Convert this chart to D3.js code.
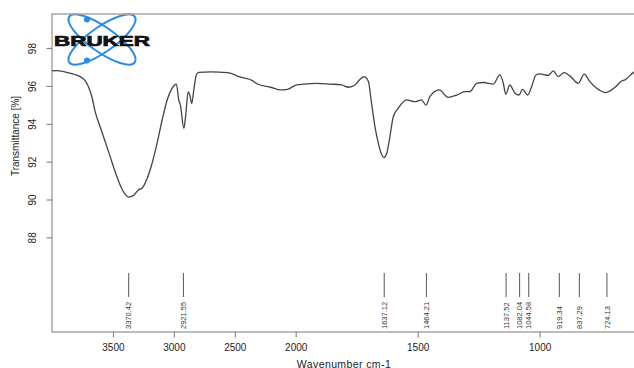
<!DOCTYPE html>
<html>
<head>
<meta charset="utf-8">
<script src="https://cdn.jsdelivr.net/npm/d3@7"></script>
<style>
  html, body { margin: 0; padding: 0; background: #fff; }
  svg { display: block; font-family: "Liberation Sans", Arial, sans-serif; }
</style>
</head>
<body>
<svg id="chart" width="634" height="368"></svg>
<script>
// spectrum: wavenumber (cm-1) and transmittance (%)
const wavenumbers = [4000, 3961, 3852, 3769, 3728, 3701, 3673, 3646, 3605, 3563, 3522, 3481, 3440, 3399, 3372,
  3330, 3289, 3261, 3220, 3179, 3138, 3096, 3055, 3014, 2979, 2960, 2946, 2918, 2904, 2882, 2869, 2853, 2836,
  2816, 2795, 2699, 2561, 2451, 2355, 2314, 2204, 2122, 2067, 1996, 1914, 1859, 1811, 1784, 1757, 1736, 1720,
  1702, 1689, 1675, 1661, 1648, 1638, 1627, 1616, 1600, 1580, 1545, 1511, 1484, 1466, 1450, 1412, 1375, 1340,
  1306, 1286, 1258, 1231, 1190, 1163, 1149, 1139, 1122, 1101, 1085, 1070, 1049, 1033, 1015, 999, 965, 944, 924,
  900, 876, 842, 817, 794, 766, 728, 691, 664, 650, 616, 600];
const transmittance = [96.8, 96.81, 96.67, 96.49, 96.28, 95.96, 95.43, 94.64, 93.84, 93.05, 92.25, 91.45, 90.75, 90.27, 90.13,
  90.22, 90.52, 90.6, 91.1, 91.9, 92.96, 94.2, 95.26, 95.88, 96.1, 95.26, 94.99, 93.76, 94.37, 95.7, 95.52, 95.08, 95.79,
  96.58, 96.72, 96.74, 96.7, 96.46, 96.28, 96.1, 95.93, 95.79, 95.82, 96.05, 96.14, 96.1, 96.05, 95.93, 96.05, 96.35, 96.49,
  96.23, 95.08, 93.84, 92.96, 92.38, 92.22, 92.43, 93.14, 94.37, 94.82, 95.26, 95.17, 95.26, 94.99, 95.43, 95.79, 95.4, 95.52,
  95.7, 95.7, 96.14, 96.18, 96.1, 96.58, 96.14, 95.56, 96.05, 95.61, 95.52, 95.82, 95.52, 95.96, 96.58, 96.64, 96.55, 96.8, 96.49,
  96.7, 96.53, 96.14, 96.62, 96.23, 95.88, 95.65, 95.93, 96.26, 96.32, 96.7, 96.8];

const peaks = [3370.42, 2921.55, 1637.12, 1464.21, 1137.52, 1082.04, 1044.58, 919.34, 837.29, 724.13];
const xTicks = [3500, 3000, 2500, 2000, 1500, 1000];
const yTicks = [88, 90, 92, 94, 96, 98];

const svg = d3.select("#chart");
const mLeft = 52, mTop = 14, mBottom = 332, mRight = 686;

// Bruker style axis: above 2000 cm-1 the scale is compressed by half
const x = d3.scaleLinear()
  .domain([4000, 2000, 400])
  .range([mLeft, 295.7, mRight]);

const y = d3.scaleLinear()
  .domain([83, 99.8])
  .range([mBottom, mTop]);

svg.append("defs").append("clipPath").attr("id", "plotclip")
  .append("rect")
  .attr("x", mLeft).attr("y", mTop)
  .attr("width", mRight - mLeft).attr("height", mBottom - mTop);

// logo
const logo = svg.append("g");
[35, -35].forEach(a => {
  logo.append("ellipse")
    .attr("cx", 102).attr("cy", 39.5)
    .attr("rx", 40).attr("ry", 12.5)
    .attr("transform", `rotate(${a},102,39.5)`)
    .attr("fill", "none")
    .attr("stroke", "#2a8be6")
    .attr("stroke-width", 2);
});
[[87, 19.5], [87, 60.5]].forEach(p => {
  logo.append("circle").attr("cx", p[0]).attr("cy", p[1]).attr("r", 3).attr("fill", "#2a8be6");
});
logo.append("text")
  .attr("x", 54).attr("y", 45.5)
  .attr("textLength", 96).attr("lengthAdjust", "spacingAndGlyphs")
  .attr("font-size", 14.5).attr("font-weight", "bold")
  .attr("fill", "#111").attr("stroke", "#111").attr("stroke-width", 0.7)
  .text("BRUKER");

// box (right edge lies outside the window)
svg.append("path")
  .attr("d", `M${mRight},${mTop}H${mLeft}V${mBottom}H${mRight}`)
  .attr("fill", "none")
  .attr("stroke", "#a6a6a6")
  .attr("stroke-width", 1.5);

// x axis
const xAxis = svg.append("g")
  .attr("transform", `translate(0,${mBottom})`)
  .call(d3.axisBottom(x).tickValues(xTicks).tickSize(5.5).tickPadding(6).tickFormat(d3.format("d")));
xAxis.select(".domain").remove();
xAxis.selectAll(".tick line").attr("stroke", "#777");
xAxis.selectAll(".tick text").attr("font-size", 10).attr("fill", "#222")
  .attr("font-family", "Liberation Sans, Arial, sans-serif");

// y axis, labels turned like R's default
const yAxis = svg.append("g")
  .attr("transform", `translate(${mLeft},0)`)
  .call(d3.axisLeft(y).tickValues(yTicks).tickSize(5.5).tickFormat(d3.format("d")));
yAxis.select(".domain").remove();
yAxis.selectAll(".tick line").attr("stroke", "#777");
yAxis.selectAll(".tick text")
  .attr("x", null).attr("dy", null)
  .attr("text-anchor", "middle")
  .attr("transform", "translate(-16.5,0) rotate(-90)")
  .attr("font-size", 10).attr("fill", "#222")
  .attr("font-family", "Liberation Sans, Arial, sans-serif");

// axis titles
svg.append("text")
  .attr("transform", `translate(19,136) rotate(-90)`)
  .attr("text-anchor", "middle")
  .attr("font-size", 10).attr("fill", "#222")
  .text("Transmittance [%]");

svg.append("text")
  .attr("x", 344).attr("y", 367.5)
  .attr("text-anchor", "middle")
  .attr("font-size", 10.5).attr("letter-spacing", 0.4).attr("fill", "#222")
  .text("Wavenumber cm-1");

// spectrum
const pts = wavenumbers.map((w, i) => [w, transmittance[i]]);
const line = d3.line()
  .x(d => x(d[0]))
  .y(d => y(d[1]))
  .curve(d3.curveMonotoneX);

svg.append("path")
  .datum(pts)
  .attr("clip-path", "url(#plotclip)")
  .attr("d", line)
  .attr("fill", "none")
  .attr("stroke", "#444")
  .attr("stroke-width", 1.3)
  .attr("stroke-linejoin", "round");

// peak markers
const pk = svg.append("g");
pk.selectAll("line")
  .data(peaks)
  .enter()
  .append("line")
  .attr("x1", d => x(d)).attr("x2", d => x(d))
  .attr("y1", 273).attr("y2", 297)
  .attr("stroke", "#555")
  .attr("stroke-width", 1);

pk.selectAll("text")
  .data(peaks)
  .enter()
  .append("text")
  .attr("transform", d => `translate(${x(d)},329) rotate(-90)`)
  .attr("dy", "0.35em")
  .attr("font-size", 7.5)
  .attr("fill", "#333")
  .text(d => d3.format(".2f")(d));
</script>
</body>
</html>
